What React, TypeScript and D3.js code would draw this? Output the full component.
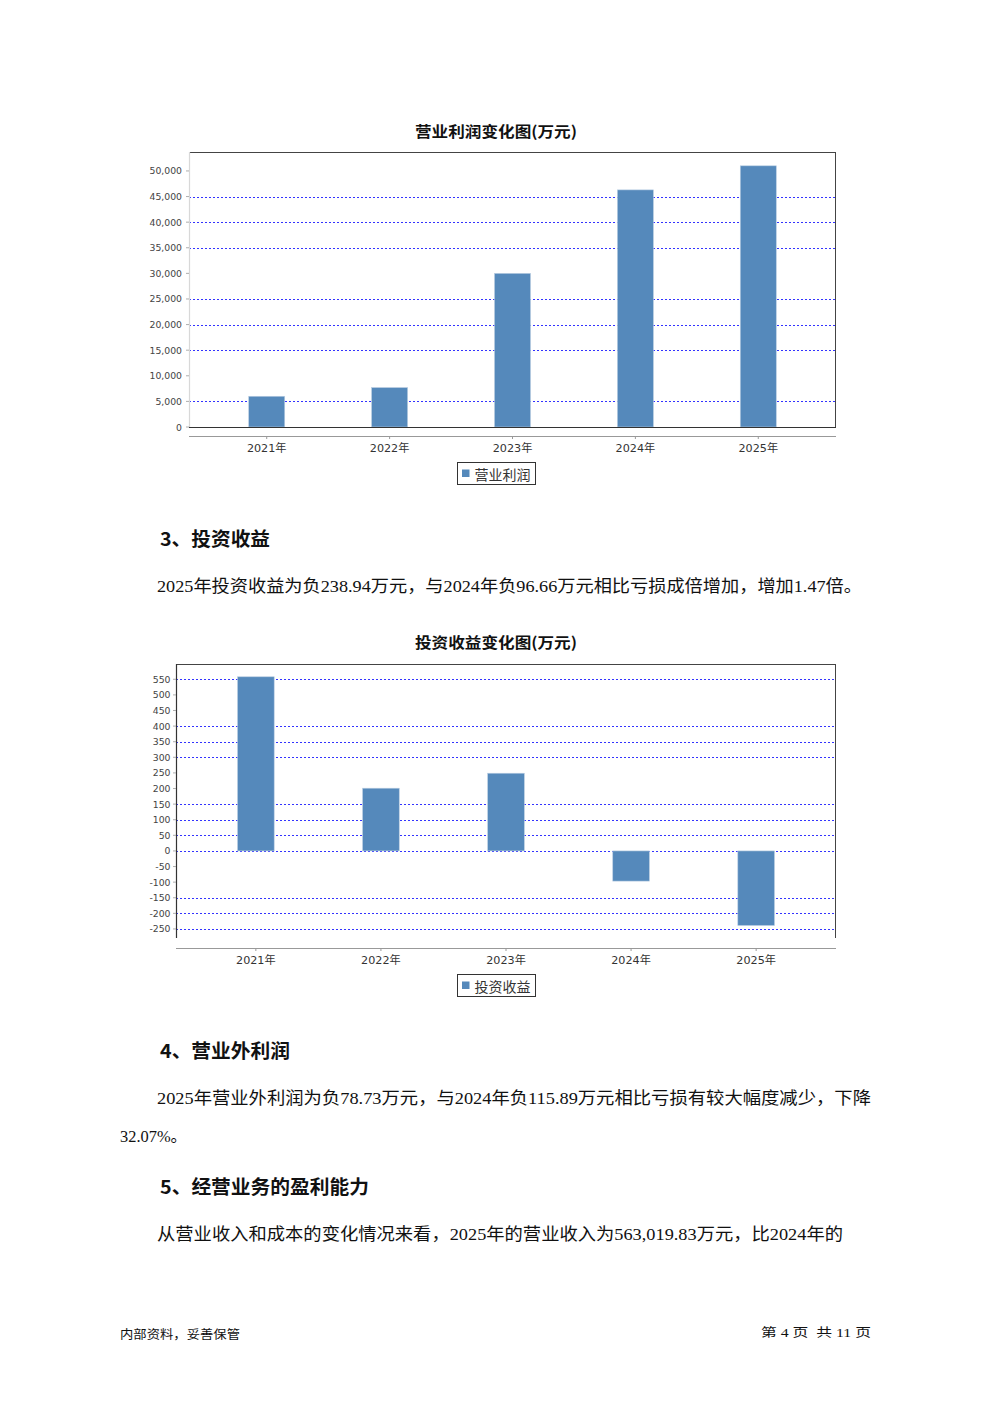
import React from "react";
import * as d3 from "d3";

// ---------- data ----------
const years = ["2021年", "2022年", "2023年", "2024年", "2025年"];

const profitValues = [6000, 7700, 30000, 46300, 51000];
const profitTicks = [0, 5000, 10000, 15000, 20000, 25000, 30000, 35000, 40000, 45000, 50000];
const profitGrid = [5000, 15000, 20000, 25000, 35000, 40000, 45000];

const investValues = [558, 201, 249, -96.66, -238.94];
const investTicks = [-250, -200, -150, -100, -50, 0, 50, 100, 150, 200, 250, 300, 350, 400, 450, 500, 550];
const investGrid = [-250, -200, -150, 0, 50, 100, 150, 300, 350, 400, 550];

const BAR = "#5589bb";
const GRID = "#3333ff";
const CJK = "'Noto Sans CJK SC', 'Noto Sans', sans-serif";
const BODY = "'Liberation Serif', 'Noto Sans CJK SC', serif";

type ChartProps = {
  title: string;
  titleY: number;
  left: number;
  right: number;
  top: number;
  bottom: number;
  domain: [number, number];
  values: number[];
  ticks: number[];
  grid: number[];
  fmt: (v: number) => string;
  labelGap: number;
  paddingOuter: number;
  axisY: number;
  labelY: number;
  legend: string;
  legendTop: number;
  leftColor: string;
  bottomFrame: boolean;
};

function BarChart(p: ChartProps) {
  const y = d3.scaleLinear().domain(p.domain).range([p.bottom, p.top]);
  const x = d3
    .scaleBand<string>()
    .domain(years)
    .range([p.left, p.right])
    .paddingInner(0.707)
    .paddingOuter(p.paddingOuter);
  const bw = x.bandwidth();
  const y0 = y(0);
  return (
    <g>
      <text
        x={496}
        y={p.titleY}
        textAnchor="middle"
        dominantBaseline="central"
        fontFamily={CJK}
        fontWeight={700}
        fontSize={15}
        textLength={162}
        lengthAdjust="spacingAndGlyphs"
        fill="#111"
      >
        {p.title}
      </text>
      {/* gridlines */}
      {p.grid.map((g) => (
        <line
          key={"g" + g}
          x1={p.left}
          x2={p.right}
          y1={Math.round(y(g)) + 0.5}
          y2={Math.round(y(g)) + 0.5}
          stroke={GRID}
          strokeWidth={1}
          strokeDasharray="2,2"
          shapeRendering="crispEdges"
        />
      ))}
      {/* bars */}
      {p.values.map((v, i) => {
        const yy = y(Math.max(0, v));
        const h = Math.abs(y(v) - y0);
        return (
          <rect
            key={"b" + i}
            x={x(years[i])}
            y={yy}
            width={bw}
            height={h}
            fill={BAR}
            stroke="#b9cde2"
            strokeWidth={0.6}
          />
        );
      })}
      {/* frame */}
      <line x1={p.left} x2={p.right} y1={p.top + 0.5} y2={p.top + 0.5} stroke="#444" />
      <line x1={p.right - 0.5} x2={p.right - 0.5} y1={p.top} y2={p.bottom} stroke="#444" />
      <line x1={p.left + 0.5} x2={p.left + 0.5} y1={p.top} y2={p.bottom} stroke={p.leftColor} strokeWidth={1.2} />
      {p.bottomFrame && (
        <line x1={p.left} x2={p.right} y1={p.bottom + 0.5} y2={p.bottom + 0.5} stroke="#333" strokeWidth={1.2} />
      )}
      {/* y ticks */}
      {p.ticks.map((t) => (
        <g key={"t" + t}>
          <line x1={p.left - 3} x2={p.left} y1={y(t)} y2={y(t)} stroke="#999" strokeWidth={0.8} />
          <text
            x={p.left - p.labelGap}
            y={y(t)}
            textAnchor="end"
            dominantBaseline="central"
            fontFamily="'DejaVu Sans', sans-serif"
            fontSize={9.3}
            fill="#444"
          >
            {p.fmt(t)}
          </text>
        </g>
      ))}
      {/* x axis */}
      <line x1={p.left} x2={p.right} y1={p.axisY + 0.5} y2={p.axisY + 0.5} stroke="#999" strokeWidth={1.2} />
      {years.map((yr) => {
        const cx = (x(yr) as number) + bw / 2;
        return (
          <g key={"x" + yr}>
            <line x1={cx} x2={cx} y1={p.axisY} y2={p.axisY + 3} stroke="#999" />
            <text
              x={cx}
              y={p.labelY}
              textAnchor="middle"
              dominantBaseline="central"
              fontFamily="'DejaVu Sans', 'Noto Sans CJK SC', sans-serif"
              fontSize={11.2}
              fill="#333"
            >
              {yr}
            </text>
          </g>
        );
      })}
      {/* legend */}
      <rect x={457.5} y={p.legendTop + 0.5} width={78} height={22} fill="#fff" stroke="#333" strokeWidth={1} />
      <rect x={462} y={p.legendTop + 7.5} width={7.5} height={7.5} fill={BAR} />
      <text
        x={474.5}
        y={p.legendTop + 11.5}
        dominantBaseline="central"
        fontFamily={CJK}
        fontSize={13.5}
        textLength={56}
        lengthAdjust="spacingAndGlyphs"
        fill="#333"
      >
        {p.legend}
      </text>
    </g>
  );
}

type Line = { text: string; x: number; y: number; w: number; size: number; bold?: boolean; font?: string };

const lines: Line[] = [
  { text: "3、投资收益", x: 160, y: 537, w: 110, size: 19, bold: true, font: CJK },
  { text: "2025年投资收益为负238.94万元，与2024年负96.66万元相比亏损成倍增加，增加1.47倍。", x: 157, y: 586, w: 705, size: 17.5 },
  { text: "4、营业外利润", x: 160, y: 1049, w: 130, size: 19, bold: true, font: CJK },
  { text: "2025年营业外利润为负78.73万元，与2024年负115.89万元相比亏损有较大幅度减少，下降", x: 157, y: 1098, w: 714, size: 17.5 },
  { text: "32.07%。", x: 120, y: 1136, w: 67, size: 17.5 },
  { text: "5、经营业务的盈利能力", x: 160, y: 1185, w: 209, size: 19, bold: true, font: CJK },
  { text: "从营业收入和成本的变化情况来看，2025年的营业收入为563,019.83万元，比2024年的", x: 157, y: 1234, w: 686, size: 17.5 },
  { text: "内部资料，妥善保管", x: 120, y: 1333, w: 120, size: 12.5, font: CJK },
  { text: "第 4 页  共 11 页", x: 761, y: 1333, w: 110, size: 12.5, font: BODY },
];

export default function App() {
  return (
    <svg
      width={992}
      height={1403}
      style={{ position: "absolute", left: 0, top: 0, background: "#fff" }}
    >
      <rect x={0} y={0} width={992} height={1403} fill="#fff" />
      <BarChart
        title="营业利润变化图(万元)"
        titleY={130}
        left={189}
        right={836}
        top={152}
        bottom={427}
        domain={[0, 53700]}
        values={profitValues}
        ticks={profitTicks}
        grid={profitGrid}
        fmt={d3.format(",")}
        labelGap={7}
        paddingOuter={0.486}
        axisY={436}
        labelY={448}
        legend="营业利润"
        legendTop={462}
        leftColor="#d8d8d8"
        bottomFrame={true}
      />
      <BarChart
        title="投资收益变化图(万元)"
        titleY={641}
        left={176}
        right={836}
        top={664}
        bottom={938}
        domain={[-279, 599]}
        values={investValues}
        ticks={investTicks}
        grid={investGrid}
        fmt={(v) => String(v)}
        labelGap={5.5}
        paddingOuter={0.492}
        axisY={948}
        labelY={960.5}
        legend="投资收益"
        legendTop={974}
        leftColor="#333"
        bottomFrame={false}
      />
      {lines.map((l, i) => (
        <text
          key={i}
          x={l.x}
          y={l.y}
          dominantBaseline="central"
          fontFamily={l.font ?? BODY}
          fontWeight={l.bold ? 700 : 400}
          fontSize={l.size}
          textLength={l.w}
          lengthAdjust="spacingAndGlyphs"
          fill="#111"
          style={{ whiteSpace: "pre" }}
        >
          {l.text}
        </text>
      ))}
    </svg>
  );
}
